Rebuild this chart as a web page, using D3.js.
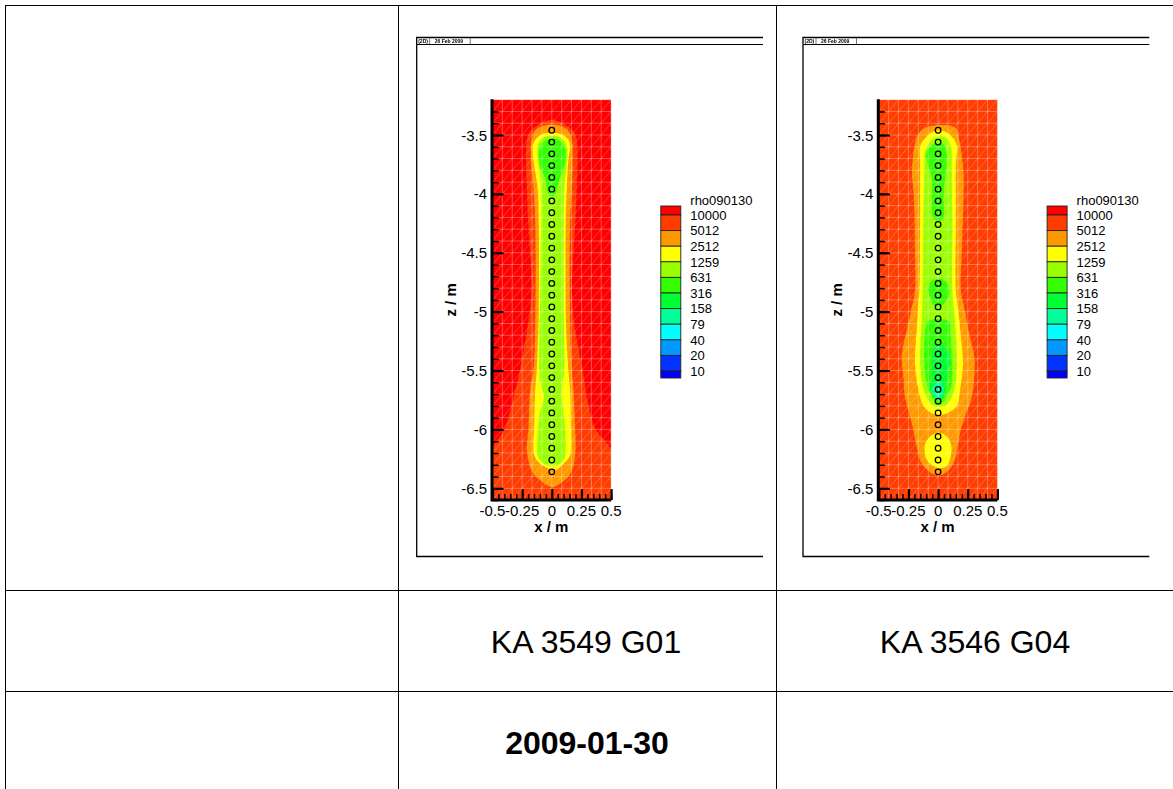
<!DOCTYPE html>
<html><head><meta charset="utf-8">
<style>html,body{margin:0;padding:0;background:#fff}svg{display:block}text{font-family:"Liberation Sans",Arial,sans-serif;fill:#000}</style>
<script src="https://cdn.jsdelivr.net/npm/d3@7"></script></head><body>
<script>
// Legend
const legendLabels=["10000","5012","2512","1259","631","316","158","79","40","20","10"];
const legendColors=["#ff0000","#ff3c00","#ff9900","#ffff00","#99ff00","#33ff00","#00ff33","#00ff99","#00ffff","#0099ff","#0033ff","#0000ff"];
const legendTitle="rho090130";
const xTicks=[-0.5,-0.25,0,0.25,0.5];
const zTicks=[-3.5,-4,-4.5,-5,-5.5,-6,-6.5];
const electrodeZ=[-3.46,-3.56,-3.66,-3.76,-3.86,-3.96,-4.06,-4.16,-4.26,-4.36,-4.46,-4.56,-4.66,-4.76,-4.86,-4.96,-5.06,-5.16,-5.26,-5.36,-5.46,-5.56,-5.66,-5.76,-5.86,-5.96,-6.06,-6.16,-6.26,-6.36];
// Contour outlines: [z, x left, x right]
const g01_red=[[-3.37,0,0],[-3.43,-.14,.14],[-3.5,-.2,.2],[-3.65,-.217,.217],[-3.95,-.21,.21],[-4.22,-.2,.2],[-4.8,-.17,.17],[-5.1,-.2,.19],[-5.5,-.27,.26],[-5.8,-.34,.31],[-6,-.4,.37],[-6.19,-.51,.51],[-6.7,-.51,.51]];
const g01_orange=[[-3.41,0,0],[-3.45,-.127,.127],[-3.55,-.17,.17],[-3.71,-.175,.175],[-3.95,-.155,.17],[-4.22,-.14,.155],[-5.1,-.14,.155],[-5.5,-.155,.17],[-5.67,-.183,.183],[-6,-.197,.197],[-6.18,-.21,.2],[-6.35,-.17,.17],[-6.43,-.1,.11],[-6.49,0,0]];
const g01_yellow=[[-3.49,-.07,.07],[-3.54,-.14,.14],[-3.6,-.16,.155],[-3.71,-.155,.14],[-3.95,-.12,.127],[-4.22,-.11,.118],[-5,-.11,.118],[-5.28,-.118,.127],[-5.5,-.127,.14],[-5.67,-.14,.155],[-5.95,-.148,.16],[-6.22,-.148,.155],[-6.29,-.1,.1],[-6.34,0,.04]];
const g01_lime=[[-3.52,-.07,.07],[-3.6,-.12,.127],[-3.74,-.11,.127],[-3.95,-.09,.105],[-4.22,-.09,.1],[-5,-.1,.1],[-5.28,-.105,.105],[-5.5,-.105,.105],[-5.65,-.085,.085],[-5.72,-.065,.085],[-5.86,-.1,.1],[-6,-.113,.113],[-6.22,-.12,.113],[-6.26,-.1,.1],[-6.3,-.055,.055]];
const g01_green=[[-3.54,-.04,.057],[-3.62,-.105,.113],[-3.77,-.1,.105],[-3.86,-.057,.07],[-4,-.028,.028],[-4.02,0,0]];
const g04_orange=[[-3.42,-.04,.1],[-3.45,-.125,.157],[-3.5,-.17,.17],[-3.6,-.2,.19],[-3.83,-.22,.215],[-4,-.205,.215],[-4.5,-.195,.2],[-4.82,-.195,.192],[-5,-.23,.228],[-5.16,-.265,.256],[-5.38,-.307,.305],[-5.55,-.293,.305],[-5.72,-.28,.285],[-5.89,-.237,.228],[-6,-.21,.192],[-6.15,-.18,.164],[-6.29,-.138,.13],[-6.38,-.04,.045]];
const g04_yellow=[[-3.47,-.04,.06],[-3.53,-.11,.13],[-3.6,-.152,.16],[-3.74,-.152,.15],[-4.22,-.152,.15],[-4.82,-.158,.15],[-5,-.17,.172],[-5.21,-.185,.192],[-5.44,-.195,.21],[-5.66,-.166,.186],[-5.8,-.124,.158],[-5.87,-.04,.06]];
const g04_yellow2=[[-6.03,-.01,.02],[-6.06,-.068,.073],[-6.13,-.11,.11],[-6.25,-.1,.102],[-6.32,-.025,.06]];
const g04_lime=[[-3.52,-.025,.06],[-3.58,-.082,.102],[-3.66,-.115,.115],[-3.74,-.115,.115],[-4.22,-.124,.12],[-4.82,-.13,.12],[-5.1,-.138,.143],[-5.38,-.152,.158],[-5.63,-.13,.144],[-5.75,-.082,.102],[-5.8,-.04,.06]];
const g04_green1=[[-3.58,-.04,.045],[-3.66,-.1,.073],[-3.74,-.09,.073],[-3.86,-.053,.06],[-4.03,-.053,.045],[-4.2,-.04,.045],[-4.23,0,0]];
const g04_green2=[[-4.73,-.04,.045],[-4.79,-.082,.088],[-4.87,-.068,.088],[-4.95,-.034,.03]];
const g04_green3=[[-5.08,-.082,.088],[-5.18,-.11,.102],[-5.38,-.118,.115],[-5.61,-.096,.115],[-5.72,-.053,.073],[-5.79,-.01,.016]];
const g04_spring=[[-5.28,-.025,.03],[-5.38,-.053,.102],[-5.55,-.053,.073],[-5.66,-.068,.06],[-5.74,-.02,.03]];
const g04_teal=[[-5.6,0,.015],[-5.65,-.05,.05],[-5.72,-.03,.03],[-5.75,0,.01]];

const W=1173,H=789;
const svg=d3.select("body").append("svg").attr("width",W).attr("height",H);
const soft=svg.append("defs").append("filter").attr("id","soft").attr("x","-2%").attr("y","-2%").attr("width","104%").attr("height","104%");
soft.append("feGaussianBlur").attr("stdDeviation",0.45);

// table rules
const tableV=[5.5,398.5,776.5], tableH=[5.5,590.5,691.5];
svg.selectAll("line.tv").data(tableV).join("line").attr("x1",d=>d).attr("x2",d=>d).attr("y1",5).attr("y2",H).attr("stroke","#000").attr("stroke-width",1);
svg.selectAll("line.th").data(tableH).join("line").attr("x1",5).attr("x2",W).attr("y1",d=>d).attr("y2",d=>d).attr("stroke","#000").attr("stroke-width",1);
svg.append("text").attr("x",586).attr("y",653).attr("text-anchor","middle").attr("font-size",32).text("KA 3549 G01");
svg.append("text").attr("x",975).attr("y",653).attr("text-anchor","middle").attr("font-size",32).text("KA 3546 G04");
svg.append("text").attr("x",587).attr("y",754).attr("text-anchor","middle").attr("font-size",32).attr("font-weight","bold").text("2009-01-30");

function panel(cfg){
  const g=svg.append("g");
  const x=d3.scaleLinear().domain([-0.5,0.5]).range([cfg.x0,cfg.x0+118.6]);
  const z=d3.scaleLinear().domain([-3.5,-6.5]).range([135,488.3]);
  const zTop=-3.2,zBot=-6.6;
  // frame
  const fx=cfg.x0-75.8, fr=fx+346.3;
  g.append("path").attr("d",`M${fr},37.5H${fx}V556.5H${fr}`).attr("fill","none").attr("stroke","#000").attr("stroke-width",1.3);
  g.append("line").attr("x1",fx).attr("x2",fr).attr("y1",44.5).attr("y2",44.5).attr("stroke","#000").attr("stroke-width",1);
  g.append("line").attr("x1",fx+13).attr("x2",fx+13).attr("y1",38).attr("y2",44).attr("stroke","#777");
  g.append("line").attr("x1",fx+53.5).attr("x2",fx+53.5).attr("y1",38).attr("y2",44).attr("stroke","#777");
  const hdr=g.append("g").attr("filter","url(#soft)");
  hdr.append("text").attr("x",fx+1.5).attr("y",43).attr("font-size",5).attr("font-weight","bold").text("(2D)");
  hdr.append("text").attr("x",fx+18).attr("y",43).attr("font-size",5).attr("font-weight","bold").text("26 Feb 2009");
  // clip
  const id="c"+cfg.name;
  g.append("clipPath").attr("id",id).append("rect").attr("x",x(-.5)).attr("y",z(zTop)).attr("width",x(.5)-x(-.5)).attr("height",z(zBot)-z(zTop));
  const pg=g.append("g").attr("clip-path",`url(#${id})`).append("g").attr("filter","url(#soft)");
  pg.append("rect").attr("x",x(-.5)-3).attr("y",z(zTop)-3).attr("width",x(.5)-x(-.5)+6).attr("height",z(zBot)-z(zTop)+6).attr("fill",cfg.bg);
  const contour=d3.line().curve(d3.curveCatmullRomClosed.alpha(.5));
  cfg.layers.forEach(([pts,col])=>{
    const poly=pts.map(p=>[x(p[1]),z(p[0])]).concat(pts.slice().reverse().filter(p=>p[1]!==p[2]).map(p=>[x(p[2]),z(p[0])]));
    pg.append("path").attr("d",contour(poly)).attr("fill",col);
  });
  // mesh
  const mx=d3.range(-0.5,0.5001,1/12), mz=d3.range(-3.2,-6.601,-0.1);
  const mesh=pg.append("g").attr("stroke","#fff").attr("stroke-opacity",.3).attr("stroke-width",1).attr("fill","none");
  mx.forEach(v=>mesh.append("line").attr("x1",x(v)).attr("x2",x(v)).attr("y1",z(zTop)).attr("y2",z(zBot)));
  mz.forEach(v=>mesh.append("line").attr("x1",x(-.5)).attr("x2",x(.5)).attr("y1",z(v)).attr("y2",z(v)));
  mx.slice(0,-1).forEach((v,i)=>mz.slice(0,-1).forEach((w,j)=>mesh.append("line").attr("x1",x(v)).attr("x2",x(mx[i+1])).attr("y1",z(mz[j+1])).attr("y2",z(w)).attr("stroke-opacity",.22)));
  // electrodes
  g.selectAll("circle.e").data(electrodeZ).join("circle").attr("cx",x(0)).attr("cy",d=>z(d)).attr("r",2.8).attr("fill","none").attr("stroke","#000").attr("stroke-width",1.25);
  // axes via d3.axis
  const ay=d3.axisRight(z).tickValues(d3.range(-3.3,-6.601,-0.1)).tickSize(6).tickFormat("");
  const gy=g.append("g").attr("transform",`translate(${x(-.5)},0)`).call(ay);
  gy.selectAll("line").attr("stroke-width",1.5);gy.select(".domain").remove();
  const ay2=d3.axisRight(z).tickValues(zTicks).tickSize(11).tickFormat("");
  const gy2=g.append("g").attr("transform",`translate(${x(-.5)},0)`).call(ay2);
  gy2.selectAll("line").attr("stroke-width",2.2);gy2.select(".domain").remove();
  const ax=d3.axisTop(x).tickValues(d3.range(-0.5,0.5001,0.05)).tickSize(6).tickFormat("");
  const gx=g.append("g").attr("transform",`translate(0,${z(zBot)})`).call(ax);
  gx.selectAll("line").attr("stroke-width",1.5);gx.select(".domain").remove();
  const ax2=d3.axisTop(x).tickValues(xTicks).tickSize(11).tickFormat("");
  const gx2=g.append("g").attr("transform",`translate(0,${z(zBot)})`).call(ax2);
  gx2.selectAll("line").attr("stroke-width",2.2);gx2.select(".domain").remove();
  g.append("path").attr("d",`M${x(-.5)-.5},${z(zTop)-.5}V${z(zBot)}H${x(.5)}`).attr("fill","none").attr("stroke","#000").attr("stroke-width",3);
  g.selectAll("text.zl").data(zTicks).join("text").attr("x",x(-.5)-5.5).attr("y",d=>z(d)+5.5).attr("text-anchor","end").attr("font-size",15).text(d=>d);
  g.selectAll("text.xl").data(xTicks).join("text").attr("x",d=>x(d)).attr("y",516).attr("text-anchor","middle").attr("font-size",15).text(d=>d);
  g.append("text").attr("x",x(0)-0.5).attr("y",532).attr("text-anchor","middle").attr("font-size",15).attr("font-weight","bold").text("x / m");
  g.append("text").attr("transform",`translate(${x(-.5)-37},${z(-4.9)}) rotate(-90)`).attr("text-anchor","middle").attr("font-size",15).attr("font-weight","bold").text("z / m");
  // legend
  const lx=cfg.x0+168.3, lw=20;
  const ly=d3.scaleLinear().domain([0,10]).range([215,371]);
  const edges=[206].concat(legendLabels.map((_,i)=>ly(i))).concat([378]);
  legendColors.forEach((c,i)=>g.append("rect").attr("x",lx).attr("y",edges[i]).attr("width",lw).attr("height",edges[i+1]-edges[i]).attr("fill",c).attr("stroke","#222").attr("stroke-width",.9));
  g.append("text").attr("x",lx+29.5).attr("y",204.5).attr("font-size",13).text(legendTitle);
  g.selectAll("text.ll").data(legendLabels).join("text").attr("x",lx+29.5).attr("y",(d,i)=>ly(i)+4.7).attr("font-size",13).text(d=>d);
}
panel({name:"a",x0:492.5,bg:"#ff0000",layers:[[g01_red,"#ff3c00"],[g01_orange,"#ff9900"],[g01_yellow,"#ffff00"],[g01_lime,"#99ff00"],[g01_green,"#33ff00"]]});
panel({name:"b",x0:878.8,bg:"#ff3c00",layers:[[g04_orange,"#ff9900"],[g04_yellow,"#ffff00"],[g04_yellow2,"#ffff00"],[g04_lime,"#99ff00"],[g04_green1,"#33ff00"],[g04_green2,"#33ff00"],[g04_green3,"#33ff00"],[g04_spring,"#00ff33"],[g04_teal,"#00ff99"]]});
</script></body></html>
